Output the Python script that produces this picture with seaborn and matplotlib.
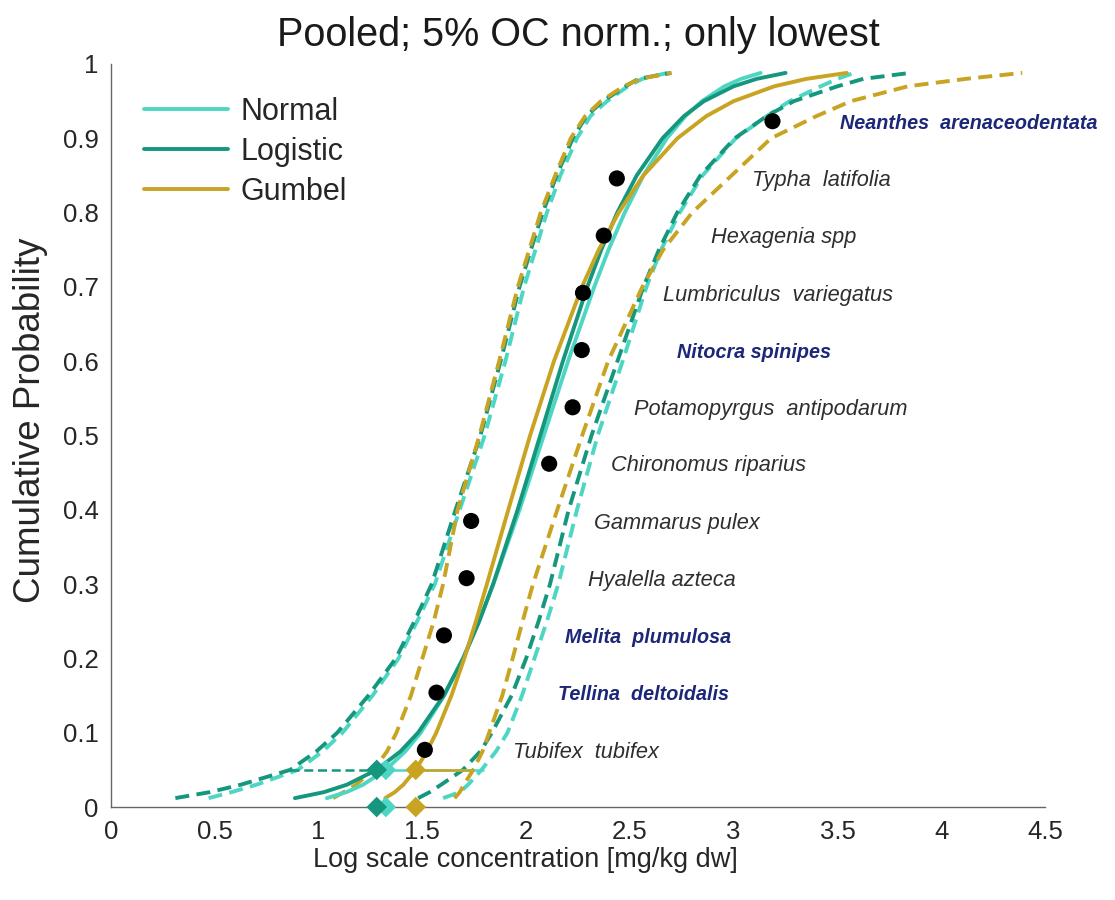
# species sensitivity distribution, pooled data, 5% OC normalised
import numpy as np
import pandas as pd
import seaborn as sns
import matplotlib.pyplot as plt
from matplotlib.lines import Line2D

# species, lowest value per species (log10 mg/kg dw)
species = ["Tubifex  tubifex", "Tellina  deltoidalis", "Melita  plumulosa",
           "Hyalella azteca", "Gammarus pulex", "Chironomus riparius",
           "Potamopyrgus  antipodarum", "Nitocra spinipes", "Lumbriculus  variegatus",
           "Hexagenia spp", "Typha  latifolia", "Neanthes  arenaceodentata"]
marine = [False, True, True, False, False, False, False, True, False, False, False, True]
log_conc = [1.512, 1.568, 1.604, 1.713, 1.735, 2.111, 2.224, 2.268, 2.274, 2.374, 2.437, 3.187]
rank_prob = [0.077, 0.154, 0.231, 0.308, 0.385, 0.462, 0.538, 0.615, 0.692, 0.769, 0.846, 0.923]
label_x = [1.937, 2.154, 2.188, 2.299, 2.328, 2.41, 2.52, 2.728, 2.66, 2.89, 3.089, 3.513]

# cumulative probability levels at which the curves were read
p_levels = [0.012, 0.02, 0.03, 0.05, 0.075, 0.1, 0.15, 0.2, 0.25, 0.3, 0.4, 0.5,
            0.6, 0.7, 0.75, 0.8, 0.85, 0.9, 0.93, 0.95, 0.97, 0.98, 0.988]

normal_fit = [1.040, 1.134, 1.214, 1.323, 1.418, 1.492, 1.605, 1.695, 1.773, 1.842, 1.968, 2.085,
              2.202, 2.328, 2.397, 2.475, 2.565, 2.678, 2.768, 2.847, 2.956, 3.036, 3.130]
normal_lo = [0.47, 0.58, 0.70, 0.90, 1.02, 1.115, 1.26, 1.385, 1.475, 1.56, 1.68, 1.80,
             1.90, 1.99, 2.045, 2.10, 2.165, 2.245, 2.31, 2.39, 2.49, 2.56, 2.68]
normal_hi = [1.60, 1.68, 1.72, 1.785, 1.855, 1.91, 1.98, 2.04, 2.10, 2.155, 2.245, 2.345,
             2.465, 2.58, 2.65, 2.74, 2.85, 3.01, 3.16, 3.27, 3.42, 3.50, 3.58]

logistic_fit = [0.886, 1.025, 1.136, 1.279, 1.395, 1.479, 1.603, 1.697, 1.774, 1.841, 1.959, 2.068,
                2.177, 2.295, 2.362, 2.439, 2.533, 2.657, 2.761, 2.857, 3.000, 3.111, 3.250]
logistic_lo = [0.31, 0.475, 0.625, 0.863, 0.99, 1.09, 1.24, 1.372, 1.462, 1.545, 1.66, 1.78,
               1.877, 1.968, 2.023, 2.08, 2.147, 2.225, 2.29, 2.37, 2.48, 2.54, 2.70]
logistic_hi = [1.48, 1.535, 1.59, 1.695, 1.78, 1.835, 1.93, 2.0, 2.06, 2.115, 2.205, 2.315,
               2.44, 2.565, 2.64, 2.728, 2.84, 3.005, 3.16, 3.29, 3.50, 3.625, 3.85]

gumbel_fit = [1.321, 1.367, 1.408, 1.468, 1.522, 1.567, 1.640, 1.702, 1.758, 1.811, 1.914, 2.019,
              2.134, 2.269, 2.350, 2.446, 2.565, 2.729, 2.869, 3.000, 3.196, 3.351, 3.545]
gumbel_lo = [1.07, 1.12, 1.18, 1.265, 1.33, 1.375, 1.445, 1.50, 1.555, 1.60, 1.67, 1.775,
             1.87, 1.96, 2.015, 2.07, 2.14, 2.215, 2.285, 2.36, 2.47, 2.55, 2.70]
gumbel_hi = [1.655, 1.68, 1.70, 1.745, 1.79, 1.822, 1.885, 1.935, 1.983, 2.033, 2.15, 2.27,
             2.395, 2.56, 2.66, 2.80, 2.99, 3.18, 3.40, 3.565, 3.84, 4.12, 4.39]

# HC5 and its confidence limits
dists = ["Normal", "Logistic", "Gumbel"]
hc5 = [1.324, 1.280, 1.468]
hc5_lo = [1.324, 0.863, 1.468]
hc5_hi = [1.79, 1.280, 1.745]

colors = {"Normal": "#4dd6c4", "Logistic": "#15977d", "Gumbel": "#c8a422"}

sns.set_theme(style="white")
plt.rcParams['font.family'] = ['Liberation Sans', 'DejaVu Sans']

fig, ax = plt.subplots(figsize=(11.15, 9), dpi=100)
fig.subplots_adjust(left=0.0996, right=0.9372, bottom=0.1033, top=0.9289)

fits = {"Normal": (normal_fit, normal_lo, normal_hi),
        "Logistic": (logistic_fit, logistic_lo, logistic_hi),
        "Gumbel": (gumbel_fit, gumbel_lo, gumbel_hi)}

dash = (0, (3.6, 1.9))
for d in dists:
    fit, lo, hi = fits[d]
    for band in (lo, hi):
        sns.lineplot(x=band, y=p_levels, ax=ax, color=colors[d], lw=2.8,
                     linestyle=dash, sort=False, estimator=None)
for d in dists:
    sns.lineplot(x=fits[d][0], y=p_levels, ax=ax, color=colors[d], lw=2.8,
                 sort=False, estimator=None)

# HC5 interval lines at 5 %
for d, a, b in zip(dists, hc5_lo, hc5_hi):
    ls = dash if d == "Logistic" else "-"
    ax.plot([a, b], [0.05, 0.05], color=colors[d], lw=1.8, linestyle=ls)

# HC5 markers at 5 % and on the axis
for d, h in zip(dists, hc5):
    ax.scatter([h, h], [0.05, 0.0], marker="D", s=110, color=colors[d],
               edgecolor="none", zorder=6, clip_on=False)

sns.scatterplot(x=log_conc, y=rank_prob, color="black", s=135, edgecolor="none",
                ax=ax, zorder=7)

for name, m, lx, py in zip(species, marine, label_x, rank_prob):
    if m:
        ax.text(lx, py - 0.003, name, color="#1c2778", fontsize=14.2, fontstyle="italic",
                fontweight="bold", va="center")
    else:
        ax.text(lx, py - 0.003, name, color="#2e2e2e", fontsize=15.7, fontstyle="italic",
                va="center")

ax.set_xlim(0, 4.5)
ax.set_ylim(0, 1)
ax.set_xticks(np.arange(0, 4.51, 0.5))
ax.set_xticklabels(["0", "0.5", "1", "1.5", "2", "2.5", "3", "3.5", "4", "4.5"])
ax.set_yticks(np.arange(0, 1.01, 0.1))
ax.set_yticklabels(["0", "0.1", "0.2", "0.3", "0.4", "0.5", "0.6", "0.7", "0.8", "0.9", "1"])
ax.tick_params(direction="in", length=6, width=1, colors="#666666",
               labelcolor="#262626", labelsize=18.5, pad=9)
sns.despine(ax=ax)
for s in ("left", "bottom"):
    ax.spines[s].set_color("#666666")
    ax.spines[s].set_linewidth(1.0)

ax.set_xlabel("Log scale concentration [mg/kg dw]", fontsize=19.5, color="#262626")
ax.xaxis.set_label_coords(0.444, -0.0715)
ax.get_xaxis().label.set_va("center")
ax.set_ylabel("Cumulative Probability", fontsize=26.5, color="#262626")
ax.yaxis.set_label_coords(-0.0859, 0.52)
ax.get_yaxis().label.set_va("center")
ax.set_title("Pooled; 5% OC norm.; only lowest", fontsize=28.5, color="#1a1a1a", pad=13)

handles = [Line2D([0], [0], color=colors[d], lw=2.8) for d in dists]
ax.legend(handles, dists, loc="upper left", bbox_to_anchor=(0.029, 0.964),
          frameon=False, fontsize=22, handlelength=2.75, handletextpad=0.4,
          labelspacing=0.33, borderaxespad=0, borderpad=0.2)

plt.savefig("out.png", dpi=100)
